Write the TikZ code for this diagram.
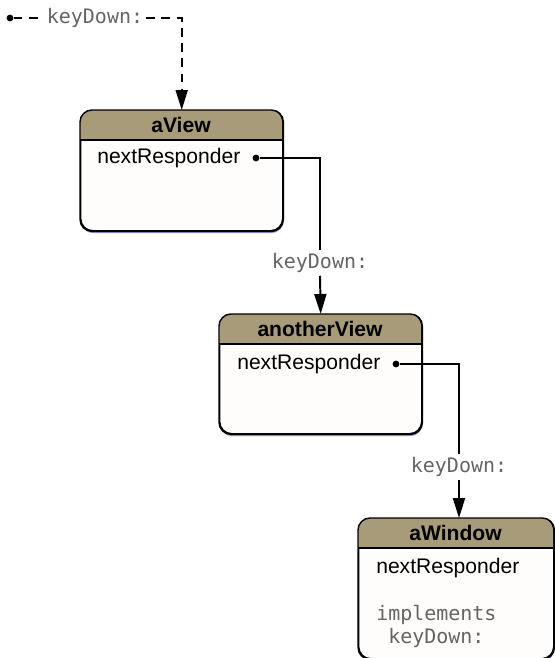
\documentclass[tikz,border=0pt]{standalone}
\usepackage{fontspec}
\setmainfont{Liberation Sans}
\newfontfamily\keyfont{DejaVu Sans Mono}
\usepackage{tikz}
\usetikzlibrary{arrows.meta,positioning}
\definecolor{headtan}{RGB}{167,155,122}
\definecolor{bodywhite}{RGB}{255,252,252}
\definecolor{shadeblue}{RGB}{150,150,215}
\definecolor{keygray}{RGB}{100,100,100}

\begin{document}
\begin{tikzpicture}[
      font=\fontsize{15}{18}\selectfont,
      objtitle/.style={font=\fontsize{15}{18}\selectfont\bfseries, inner sep=0pt},
      objbody/.style={draw, line width=1pt, rounded corners=0.3cm,
        fill=bodywhite, inner sep=0pt},
      field/.style={anchor=west, inner sep=0pt},
      msg/.style={font=\keyfont\fontsize{14.2}{16.4}\selectfont, text=keygray,
        inner sep=2pt},
      dot/.style={circle, fill=black, inner sep=0pt, minimum size=1.7mm},
      arr/.style={-{Triangle[length=5mm, width=3mm]}, line width=1.4pt},
      link/.style={line width=1.4pt},
      dashlink/.style={line width=1.4pt, dash pattern=on 2.2mm off 1.6mm}
    ]
    \newcommand{\objbox}[6]{%
      \fill[shadeblue, rounded corners=0.3cm] (#1+0.03,#2-0.08)
        rectangle ++(#3,-#4);
      \node[objbody, minimum width=#3cm, minimum height=#4cm,
        anchor=north west] (#6) at (#1,#2) {};
      \fill[headtan] (#1,#2-0.75) {[rounded corners=0.3cm] -- (#1,#2)
        -- (#1+#3,#2)} -- (#1+#3,#2-0.75) -- cycle;
      \draw[line width=1pt, rounded corners=0.3cm] (#6.north west)
        rectangle (#6.south east);
      \draw[line width=0.8pt] (#1,#2-0.75) -- (#1+#3,#2-0.75);
      \node[objtitle] (#6-t) at (#1+#3/2,#2-0.375) {#5};
    }
    \useasboundingbox (0,0) rectangle (13.85,-16.45);

    \objbox{2.0}{-2.75}{5.05}{3.0}{aView}{aview}
    \objbox{5.475}{-7.85}{5.05}{2.975}{anotherView}{anotherview}
    \objbox{8.95}{-12.95}{4.875}{3.5}{aWindow}{awindow}

    \node[dot] (start) at (0.25,-0.45) {};
    \node[msg] (key0) at (2.375,-0.45) {keyDown:};
    \draw[dashlink] (start) -- (key0);
    \draw[dashlink, arr] (key0) -| (aview.north);

    \node[field] (avnext) at (2.425,-3.95) {nextResponder};
    \node[dot] (avdot) at (6.4,-3.95) {};
    \node[msg] (key1) at (8.0,-6.575) {keyDown:};
    \draw[link] (avdot) -| (key1.north);
    \draw[arr] (key1.south) -- (anotherview.north);

    \node[field] (annext) at (5.925,-9.1) {nextResponder};
    \node[dot] (andot) at (9.9,-9.1) {};
    \node[msg] (key2) at (11.475,-11.675) {keyDown:};
    \draw[link] (andot) -| (key2.north);
    \draw[arr] (key2.south) -- (key2.south |- awindow.north);

    \node[field] (awnext) at (9.4,-14.2) {nextResponder};
    \node[msg, anchor=north west, align=left, inner sep=0pt] (awimpl)
      at (9.4,-15.12) {implements\\~keyDown:};
  \end{tikzpicture}
\end{document}
